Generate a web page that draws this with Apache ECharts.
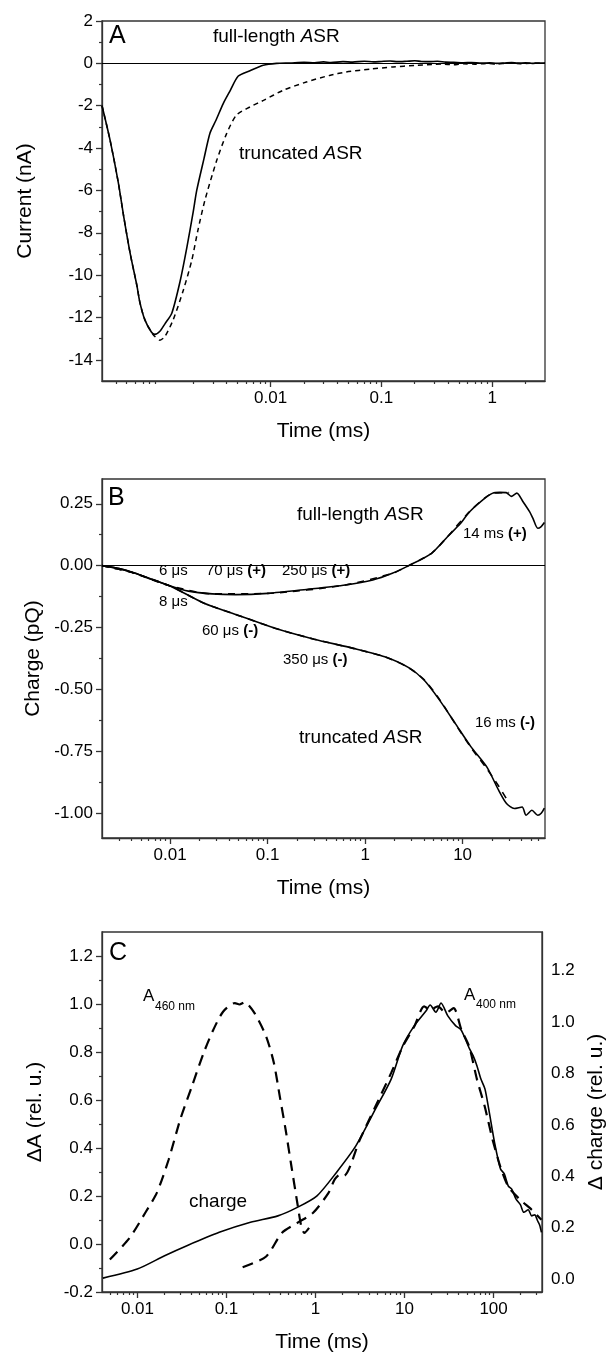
<!DOCTYPE html>
<html>
<head>
<meta charset="utf-8">
<script src="https://cdn.jsdelivr.net/npm/echarts@6/dist/echarts.min.js"></script>
<style>html,body{margin:0;padding:0;background:#fff;}#chart{width:615px;height:1358px;}</style>
</head>
<body>
<div id="chart"></div>
<script>
// ---------------- Panel A: current (nA) vs time (ms) ----------------
const timeA_full = [0.0003, 0.000354, 0.00042, 0.00047, 0.00054, 0.00062, 0.00066, 0.00073, 0.00084, 0.0009, 0.001, 0.00111, 0.00128, 0.00152, 0.00175, 0.002, 0.00215, 0.0025, 0.00283, 0.0032, 0.00373, 0.0043, 0.0051, 0.0065, 0.00857, 0.0113,
  0.015, 0.02, 0.025, 0.03, 0.035, 0.045, 0.055, 0.07, 0.085, 0.1, 0.12, 0.14, 0.17, 0.2, 0.23, 0.27, 0.32, 0.38, 0.45, 0.55, 0.65, 0.8, 0.95, 1.1, 1.3, 1.5, 1.7, 2.0, 2.3, 2.6, 3.0];
const currentFull = [-2.0, -3.6, -5.6, -7.2, -9.0, -10.5, -11.3, -12.1, -12.7, -12.8, -12.65, -12.3, -11.8, -10.3, -8.7, -7.0, -6.0, -4.5, -3.3, -2.7, -1.9, -1.3, -0.6, -0.35, -0.09, 0.0,
  0.02, 0.05, 0.03, 0.07, 0.04, 0.08, 0.06, 0.1, 0.07, 0.09, 0.11, 0.08, 0.1, 0.12, 0.09, 0.08, 0.1, 0.06, 0.05, 0.03, 0.04, 0.01, 0.03, 0.0, 0.02, 0.04, 0.01, 0.03, 0.0, 0.02, 0.02];
const timeA_trunc = [0.0003, 0.000354, 0.00042, 0.00047, 0.00054, 0.00062, 0.00066, 0.00073, 0.00084, 0.0009, 0.001, 0.00111, 0.00132, 0.00163, 0.00194, 0.0022, 0.00255, 0.00326, 0.004, 0.0049, 0.0065, 0.0086, 0.013, 0.021, 0.034, 0.048, 0.08, 0.127, 0.2, 0.286, 0.35, 0.45, 0.55, 0.7, 0.9, 1.1, 1.4, 1.8, 2.2, 3.0];
const currentTrunc = [-2.0, -3.6, -5.6, -7.2, -9.0, -10.5, -11.3, -12.1, -12.7, -12.9, -13.07, -12.9, -12.1, -10.7, -9.3, -7.9, -6.46, -4.58, -3.32, -2.45, -2.06, -1.75, -1.27, -0.88, -0.57, -0.41, -0.27, -0.17, -0.1, -0.05, -0.03, -0.07, -0.02, -0.04, 0.0, -0.03, 0.01, -0.02, 0.01, 0.0];
const ticksA_y = [-14, -12, -10, -8, -6, -4, -2, 0, 2];
const minorA_y = [-13, -11, -9, -7, -5, -3, -1, 1];
const ticksA_x = [0.01, 0.1, 1];

// ---------------- Panel B: charge (pQ) vs time (ms) ----------------
const timeB_full = [0.002, 0.003, 0.0044, 0.0065, 0.0097, 0.0154, 0.027, 0.047, 0.1, 0.25, 0.63, 1.2, 1.9, 2.8, 4.8, 7.0, 9.5, 11.8, 16, 20.4, 24, 28, 31.6, 36, 41.5, 48.6, 52.5, 59, 64, 69];
const chargeFull = [0, -0.012, -0.031, -0.055, -0.08, -0.103, -0.114, -0.117, -0.112, -0.096, -0.078, -0.058, -0.031, 0.0, 0.05, 0.117, 0.17, 0.218, 0.265, 0.293, 0.296, 0.295, 0.28, 0.293, 0.259, 0.218, 0.192, 0.151, 0.158, 0.174];
const timeB_trunc = [0.002, 0.003, 0.0044, 0.0065, 0.01, 0.0223, 0.047, 0.119, 0.30, 0.757, 1.59, 2.77, 4.02, 5.8, 8.43, 12.2, 17.7, 23.4, 28.2, 33.9, 40.8, 44.8, 51.4, 59, 64, 69];
const chargeTrunc = [0, -0.012, -0.031, -0.056, -0.082, -0.152, -0.197, -0.253, -0.297, -0.334, -0.368, -0.411, -0.462, -0.543, -0.638, -0.732, -0.813, -0.907, -0.961, -0.981, -0.975, -1.008, -0.988, -1.008, -1.0, -0.979];
const fitTimeFull = [0.002, 0.004, 0.0097, 0.027, 0.1, 0.63, 1.9, 2.8, 4.8, 7, 11.8, 20.4, 30];
const fitFull = [0, -0.027, -0.08, -0.114, -0.112, -0.078, -0.031, 0.0, 0.05, 0.117, 0.218, 0.292, 0.295];
const fitTimeTrunc = [0.002, 0.004, 0.01, 0.0223, 0.047, 0.119, 0.3, 0.757, 1.59, 2.77, 4.02, 5.8, 8.43, 12.2, 17.7, 23.4, 28];
const fitTrunc = [0, -0.027, -0.082, -0.152, -0.197, -0.253, -0.297, -0.334, -0.368, -0.411, -0.46, -0.54, -0.64, -0.735, -0.82, -0.89, -0.94];
const ticksB_y = [-1.0, -0.75, -0.5, -0.25, 0, 0.25];
const minorB_y = [-0.875, -0.625, -0.375, -0.125, 0.125];
const ticksB_x = [0.01, 0.1, 1, 10];

// ---------------- Panel C: normalized dA and charge ----------------
const timeC_charge = [0.0041, 0.00995, 0.0202, 0.037, 0.083, 0.186, 0.378, 0.625, 1.04, 1.72, 2.85, 4.71, 7.08, 9.55, 12.9, 17.5, 19.4, 22.5, 25.7, 30.5, 37.4, 43, 48.2, 53, 58.9, 65, 72.1, 80, 88.3, 102.5, 119.7, 132, 146, 160, 179, 200, 219, 245, 268, 290, 312, 330, 345];
const chargeC = [0.004, 0.039, 0.091, 0.132, 0.182, 0.221, 0.246, 0.279, 0.324, 0.415, 0.519, 0.661, 0.778, 0.908, 0.986, 1.044, 1.066, 1.038, 1.074, 1.025, 0.986, 0.97, 0.934, 0.9, 0.869, 0.83, 0.778, 0.74, 0.661, 0.532, 0.428, 0.41, 0.363, 0.35, 0.311, 0.29, 0.26, 0.27, 0.246, 0.25, 0.227, 0.21, 0.182];
const timeC_a460 = [0.0049, 0.00815, 0.0122, 0.0165, 0.0224, 0.0302, 0.0409, 0.0554, 0.0713, 0.092, 0.1245, 0.14, 0.16, 0.206, 0.279, 0.341, 0.397, 0.462, 0.537, 0.625, 0.693, 0.75, 0.847];
const a460 = [-0.065, 0.025, 0.129, 0.213, 0.351, 0.518, 0.657, 0.796, 0.893, 0.969, 1.004, 0.998, 1.007, 0.963, 0.865, 0.754, 0.615, 0.476, 0.323, 0.171, 0.073, 0.046, 0.067];
const timeC_a400 = [0.152, 0.279, 0.419, 0.625, 0.935, 1.40, 1.65, 1.90, 2.10, 3.15, 4.71, 7.08, 9.55, 12.9, 16.6, 19.4, 23.7, 29.1, 35.6, 43.5, 53.2, 65.2, 79.6, 97.5, 119, 146, 198, 268, 345];
const a400 = [-0.097, -0.052, 0.046, 0.088, 0.129, 0.213, 0.27, 0.29, 0.285, 0.435, 0.573, 0.713, 0.823, 0.907, 0.99, 0.976, 0.99, 0.963, 0.983, 0.893, 0.823, 0.685, 0.573, 0.435, 0.323, 0.24, 0.185, 0.143, 0.101];
const ticksC_yL = [-0.2, 0, 0.2, 0.4, 0.6, 0.8, 1.0, 1.2];
const minorC_yL = [-0.1, 0.1, 0.3, 0.5, 0.7, 0.9, 1.1];
const ticksC_yR = [0, 0.2, 0.4, 0.6, 0.8, 1.0, 1.2];
const ticksC_x = [0.01, 0.1, 1, 10, 100];

// ---------------- helpers ----------------
const FONT = "'Liberation Sans', Arial, Helvetica, sans-serif";
const AX = '#333';
const lg = v => Math.log10(v);
const pts = (ts, vs) => ts.map((t, i) => [lg(t), vs[i]]);
function minorLog(lo, hi) {
  const out = [];
  for (let e = Math.floor(lg(lo)) - 1; e <= Math.ceil(lg(hi)); e++) {
    for (let m = 2; m <= 9; m++) {
      const v = m * Math.pow(10, e);
      if (v >= lo * 1.0001 && v <= hi * 0.9999) out.push(lg(v));
    }
  }
  return out;
}
function fmtLog(v) {
  const p = Math.round(v);
  return p >= 0 ? String(Math.pow(10, p)) : Math.pow(10, p).toFixed(-p);
}
const tickFont = { fontSize: 17, color: '#000', fontFamily: FONT };
const nameFont = { fontSize: 21, color: '#000', fontFamily: FONT };

function xMajor(g, lo, hi, majors) {
  const mv = majors.map(lg);
  return {
    type: 'value', gridIndex: g, min: lg(lo), max: lg(hi), position: 'bottom',
    axisLine: { show: true, onZero: false, lineStyle: { color: AX, width: 1.3 } },
    axisTick: { show: true, customValues: mv, length: 6, lineStyle: { color: AX, width: 1.3 } },
    axisLabel: Object.assign({ show: true, customValues: mv, formatter: fmtLog, margin: 9 }, tickFont),
    splitLine: { show: false },
    name: 'Time (ms)', nameLocation: 'middle', nameGap: 40, nameTextStyle: nameFont
  };
}
function xMinor(g, lo, hi) {
  return {
    type: 'value', gridIndex: g, min: lg(lo), max: lg(hi), position: 'bottom', offset: 0,
    axisLine: { show: false, onZero: false },
    axisTick: { show: true, customValues: minorLog(lo, hi), length: 3, lineStyle: { color: AX, width: 1.2 } },
    axisLabel: { show: false }, splitLine: { show: false }
  };
}
function yMajor(g, mn, mx, majors, dec, name, gap) {
  return {
    type: 'value', gridIndex: g, min: mn, max: mx, position: 'left',
    axisLine: { show: true, onZero: false, lineStyle: { color: AX, width: 1.3 } },
    axisTick: { show: true, customValues: majors, length: 6, lineStyle: { color: AX, width: 1.3 } },
    axisLabel: Object.assign({ show: true, customValues: majors, formatter: v => v.toFixed(dec), margin: 9 }, tickFont),
    splitLine: { show: false },
    name: name, nameLocation: 'middle', nameGap: gap, nameRotate: 90, nameTextStyle: nameFont
  };
}
function yMinor(g, mn, mx, minors) {
  return {
    type: 'value', gridIndex: g, min: mn, max: mx, position: 'left', offset: 0,
    axisLine: { show: false, onZero: false },
    axisTick: { show: true, customValues: minors, length: 3, lineStyle: { color: AX, width: 1.2 } },
    axisLabel: { show: false }, splitLine: { show: false }
  };
}
const zeroLine = {
  silent: true, symbol: ['none', 'none'], label: { show: false },
  lineStyle: { color: '#000', width: 1, type: 'solid' }, data: [{ yAxis: 0 }], animation: false
};
function line(xi, yi, data, width, dash, extra) {
  return Object.assign({
    type: 'line', xAxisIndex: xi, yAxisIndex: yi, data: data, showSymbol: false, symbol: 'none',
    smooth: 0.25, lineStyle: { color: '#000', width: width, type: dash || 'solid' }, z: 3
  }, extra || {});
}
function txt(left, top, text, size, rich) {
  const base = { fontSize: size, fontFamily: FONT, fill: '#000' };
  return { type: 'text', left: left, top: top, z: 100,
    style: Object.assign({ text: text, rich: rich || {} }, base) };
}
const rASR = sz => ({ n: { fontSize: sz, fontFamily: FONT, fill: '#000' }, i: { fontSize: sz, fontFamily: FONT, fontStyle: 'italic', fill: '#000' } });
const rPM = sz => ({ n: { fontSize: sz, fontFamily: FONT, fill: '#000' }, b: { fontSize: sz, fontFamily: FONT, fontWeight: 'bold', fill: '#000' } });

const gridBase = { show: true, borderColor: AX, borderWidth: 1.3, backgroundColor: 'transparent', containLabel: false };

const option = {
  animation: false,
  backgroundColor: '#fff',
  grid: [
    Object.assign({ left: 102, top: 21, width: 443, height: 360 }, gridBase),
    Object.assign({ left: 102, top: 479, width: 443, height: 359 }, gridBase),
    Object.assign({ left: 102, top: 932, width: 444, height: 360 }, gridBase)
  ],
  xAxis: [
    xMajor(0, 0.0003, 3, ticksA_x), xMinor(0, 0.0003, 3),
    xMajor(1, 0.002, 70, ticksB_x), xMinor(1, 0.002, 70),
    xMajor(2, 0.004, 350, ticksC_x), xMinor(2, 0.004, 350)
  ],
  yAxis: [
    yMajor(0, -15, 2, ticksA_y, 0, 'Current (nA)', 66), yMinor(0, -15, 2, minorA_y),
    yMajor(1, -1.1, 0.35, ticksB_y, 2, 'Charge (pQ)', 56), yMinor(1, -1.1, 0.35, minorB_y),
    yMajor(2, -0.2, 1.3, ticksC_yL, 1, 'ΔA (rel. u.)', 56), yMinor(2, -0.2, 1.3, minorC_yL),
    {
      type: 'value', gridIndex: 2, min: -0.05, max: 1.35, position: 'right',
      axisLine: { show: true, onZero: false, lineStyle: { color: AX, width: 1.3 } },
      axisTick: { show: false },
      axisLabel: Object.assign({ show: true, customValues: ticksC_yR, formatter: v => v.toFixed(1), margin: 9 }, tickFont),
      splitLine: { show: false },
      name: 'Δ charge (rel. u.)', nameLocation: 'middle', nameGap: 44, nameRotate: 90, nameTextStyle: nameFont
    }
  ],
  series: [
    line(0, 0, pts(timeA_full, currentFull), 1.6, 'solid', { markLine: zeroLine }),
    line(0, 0, pts(timeA_trunc, currentTrunc), 1.5, [5, 4]),
    line(2, 2, pts(timeB_full, chargeFull), 1.6, 'solid', { markLine: zeroLine }),
    line(2, 2, pts(timeB_trunc, chargeTrunc), 1.6, 'solid'),
    line(2, 2, pts(fitTimeFull, fitFull), 1.6, [7, 6]),
    line(2, 2, pts(fitTimeTrunc, fitTrunc), 1.6, [7, 6]),
    line(4, 6, pts(timeC_charge, chargeC), 1.6, 'solid'),
    line(4, 4, pts(timeC_a460, a460), 2.2, [11, 7]),
    line(4, 4, pts(timeC_a400, a400), 2.2, [11, 7])
  ],
  graphic: [
    txt(109, 24, 'A', 25),
    txt(213, 27, '{n|full-length }{i|A}{n|SR}', 19, rASR(19)),
    txt(239, 144, '{n|truncated }{i|A}{n|SR}', 19, rASR(19)),

    txt(108, 486, 'B', 25),
    txt(297, 505, '{n|full-length }{i|A}{n|SR}', 19, rASR(19)),
    txt(299, 728, '{n|truncated }{i|A}{n|SR}', 19, rASR(19)),
    txt(159, 563, '6 μs', 15),
    txt(206, 563, '{n|70 μs }{b|(+)}', 15, rPM(15)),
    txt(282, 563, '{n|250 μs }{b|(+)}', 15, rPM(15)),
    txt(159, 594, '8 μs', 15),
    txt(202, 623, '{n|60 μs }{b|(-)}', 15, rPM(15)),
    txt(283, 652, '{n|350 μs }{b|(-)}', 15, rPM(15)),
    txt(463, 526, '{n|14 ms }{b|(+)}', 15, rPM(15)),
    txt(475, 715, '{n|16 ms }{b|(-)}', 15, rPM(15)),

    txt(109, 941, 'C', 25),
    txt(143, 988, 'A', 17),
    txt(155, 1001, '460 nm', 12),
    txt(464, 987, 'A', 17),
    txt(476, 999, '400 nm', 12),
    txt(189, 1192, 'charge', 19)
  ]
};
const chart = echarts.init(document.getElementById('chart'), null, { renderer: 'canvas' });
chart.setOption(option);
</script>
</body>
</html>
